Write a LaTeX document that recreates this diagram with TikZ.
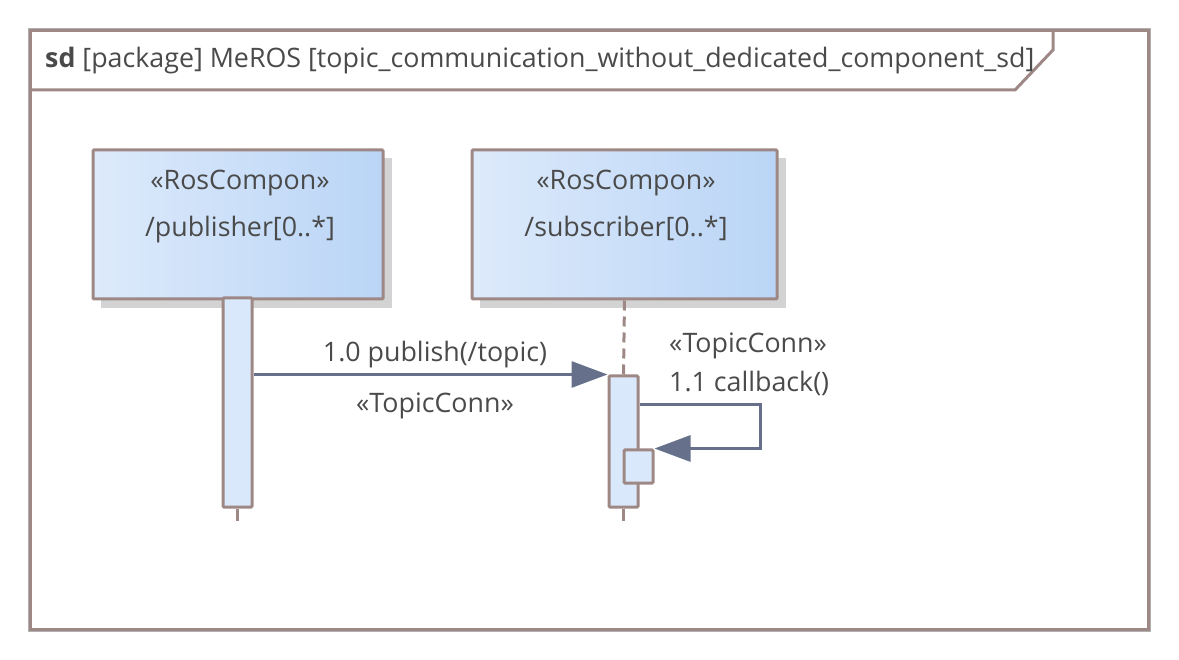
\documentclass[tikz,border=0pt]{standalone}
\usepackage{fontspec}
\setmainfont{Open Sans}
\usetikzlibrary{arrows.meta}
\definecolor{frameC}{HTML}{9E8886}
\definecolor{edgeC}{HTML}{B0B0B0}
\definecolor{shadowC}{HTML}{D3D3D3}
\definecolor{fillL}{HTML}{DDEAFB}
\definecolor{fillR}{HTML}{BAD5F6}
\definecolor{actC}{HTML}{DAE8FB}
\definecolor{msgC}{HTML}{66708A}
\definecolor{txtC}{HTML}{4A4A4A}
\tikzset{
  lbl/.style={font=\fontsize{26.8}{30}\selectfont, text=txtC, inner sep=0pt},
  compbox/.style={draw=frameC, line width=3pt, rounded corners=1pt, left color=fillL, right color=fillR, inner sep=0pt},
  shadowbox/.style={fill=shadowC, draw=none},
  actbox/.style={draw=frameC, line width=3pt, fill=actC, inner sep=0pt, rounded corners=1pt},
  lifeline/.style={draw=frameC, line width=3pt, dash pattern=on 10pt off 6pt},
  msg/.style={draw=msgC, line width=3pt, -{Triangle[length=36pt, width=26pt]}},
  framestyle/.style={draw=frameC, line width=3pt},
}
\begin{document}
\begin{tikzpicture}[x=1pt, y=-1pt]
\useasboundingbox (0,0) rectangle (1179,660);
% frame
\draw[edgeC, line width=1pt] (28.5,28.5) rectangle (1150.5,631.5);
\draw[framestyle] (30.5,30.5) rectangle (1148.5,629.5);
\draw[framestyle, line join=miter] (31,90) -- (1015,90) -- (1053,50) -- (1053,31);
\node[lbl, anchor=base west] (title) at (45,68) {\textbf{sd} [package] MeROS [topic\_communication\_without\_dedicated\_component\_sd]};
% shadows
\fill[shadowC] (101,158) rectangle (392,308);
\fill[shadowC] (480,158) rectangle (786,308);
% component boxes
\node[compbox, minimum width=290pt, minimum height=149pt] (pub) at (238,224.5) {};
\node[compbox, minimum width=305pt, minimum height=149pt] (sub) at (624.5,224.5) {};
\node[lbl, anchor=base] (pubst) at (240,190) {«RosCompon»};
\node[lbl, anchor=base] (pubname) at (240,237) {/publisher[0..*]};
\node[lbl, anchor=base] (subst) at (626,190) {«RosCompon»};
\node[lbl, anchor=base] (subname) at (626,237) {/subscriber[0..*]};
% activations
\node[actbox, minimum width=29pt, minimum height=209pt] (pubact) at (237.5,402.5) {};
\node[actbox, minimum width=29pt, minimum height=131pt] (subact) at (623.5,441.5) {};
\node[actbox, minimum width=29pt, minimum height=33pt] (subact2) at (638.5,466.5) {};
% lifelines
\coordinate (pubend) at (237.5,521);
\coordinate (subend) at (623.5,521);
\draw[lifeline] (sub.south) -- (subact.north);
\draw[lifeline, dash pattern=on 13pt off 6pt] (pubact.south) -- (pubend);
\draw[lifeline, dash pattern=on 13pt off 6pt] (subact.south) -- (subend);
% messages
\draw[msg] (pubact.east |- subact.north) -- (subact.north west);
\node[lbl, anchor=base] (m1) at (435,362) {1.0 publish(/topic)};
\node[lbl, anchor=base] (m1st) at (435,413) {«TopicConn»};
\coordinate (selfA) at (760,405);
\draw[msg, line join=miter] (subact.east |- selfA) -- (selfA) |- (subact2.north east);
\node[lbl, anchor=base west] (m2st) at (669,353) {«TopicConn»};
\node[lbl, anchor=base west] (m2) at (669,392) {1.1 callback()};
\end{tikzpicture}
\end{document}
